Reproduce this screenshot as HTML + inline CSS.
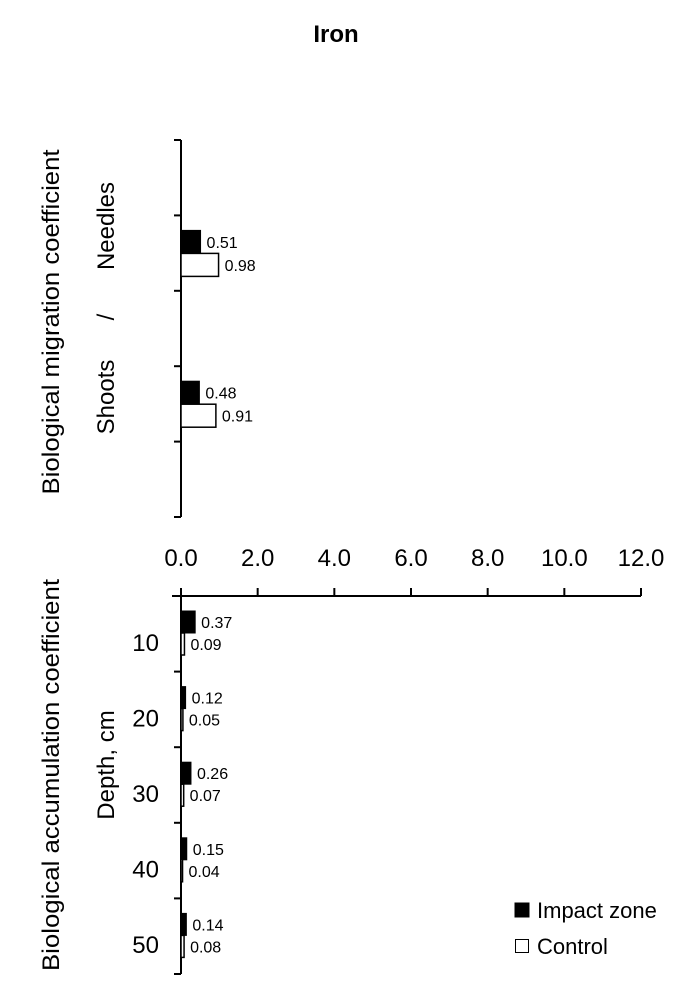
<!DOCTYPE html>
<html><head><meta charset="utf-8"><style>
body{margin:0;background:#fff;}
svg{display:block;font-family:"Liberation Sans",Arial,sans-serif;}
</style></head><body>
<svg id="chart" width="681" height="1004" viewBox="0 0 681 1004" xmlns="http://www.w3.org/2000/svg">
<text x="336" y="42" font-size="24" font-weight="bold" text-anchor="middle">Iron</text>
<g id="top"></g>
<g id="bot"></g>
<g id="axis"></g>
<text transform="translate(59,322) rotate(-90)" font-size="24" text-anchor="middle" textLength="345" lengthAdjust="spacingAndGlyphs">Biological migration coefficient</text>
<text transform="translate(114,226) rotate(-90)" font-size="24" text-anchor="middle">Needles</text>
<text transform="translate(114,317) rotate(-90)" font-size="24" text-anchor="middle">/</text>
<text transform="translate(114,397) rotate(-90)" font-size="24" text-anchor="middle">Shoots</text>
<text transform="translate(59,775) rotate(-90)" font-size="24" text-anchor="middle" textLength="392" lengthAdjust="spacingAndGlyphs">Biological accumulation coefficient</text>
<text transform="translate(114,765) rotate(-90)" font-size="24" text-anchor="middle">Depth, cm</text>
<rect x="515" y="903" width="14" height="14" fill="#000" stroke="#000"/>
<text x="537" y="918" font-size="22">Impact zone</text>
<rect x="515.5" y="939.5" width="13" height="13" fill="#fff" stroke="#000"/>
<text x="537" y="954" font-size="22">Control</text>
</svg>
<script>
const topCategories = ["Needles", "Shoots"];
const topSlots = [1, 3];
const topImpact = [0.51, 0.48];
const topControl = [0.98, 0.91];
const depthCategories = ["10", "20", "30", "40", "50"];
const depthImpact = [0.37, 0.12, 0.26, 0.15, 0.14];
const depthControl = [0.09, 0.05, 0.07, 0.04, 0.08];
const xTicks = [0, 2, 4, 6, 8, 10, 12];
const xTickLabels = ["0.0", "2.0", "4.0", "6.0", "8.0", "10.0", "12.0"];

const NS = "http://www.w3.org/2000/svg";
const x0 = 181, pxPerUnit = (641 - 181) / 12;
function xs(v){ return x0 + v * pxPerUnit; }
function mk(tag, attrs, parent){
  const e = document.createElementNS(NS, tag);
  for (const k in attrs) e.setAttribute(k, attrs[k]);
  parent.appendChild(e); return e;
}
function fmt(v){ return v.toFixed(2); }

const topG = document.getElementById('top');
const tTop = 140, tBot = 517, tSlot = (tBot - tTop) / 5;
let ln = mk('line', {x1:x0, y1:tTop, x2:x0, y2:tBot, stroke:'#000', 'stroke-width':2}, topG);


for (let i = 0; i <= 5; i++) {
  const y = tTop + i * tSlot;
  const t = mk('line', {x1:x0-7, y1:y, x2:x0, y2:y, stroke:'#000', 'stroke-width':2}, topG);
  
  
}
function drawPair(g, yStart, imp, ctl, h, name){
  const b1 = mk('rect', {x:x0, y:yStart, width:Math.max(xs(imp)-x0,1), height:h, fill:'#000', stroke:'#000'}, g);
  
  
  const l1 = mk('text', {x:xs(imp)+6, y:yStart+h/2+6, 'font-size':16}, g);
  l1.textContent = fmt(imp);
  
  
  const b2 = mk('rect', {x:x0, y:yStart+h, width:Math.max(xs(ctl)-x0,1), height:h, fill:'#fff', stroke:'#000', 'stroke-width':1.5}, g);
  
  
  const l2 = mk('text', {x:xs(ctl)+6, y:yStart+h*1.5+6, 'font-size':16}, g);
  l2.textContent = fmt(ctl);
  
  
}
topCategories.forEach((c, i) => {
  drawPair(topG, tTop + topSlots[i] * tSlot + 15, topImpact[i], topControl[i], 23, c.toLowerCase());
});

const ax = document.getElementById('axis');
const axY = 596;
ln = mk('line', {x1:172, y1:axY, x2:641, y2:axY, stroke:'#000', 'stroke-width':2}, ax);


xTicks.forEach((v, i) => {
  const t = mk('line', {x1:xs(v), y1:axY-8, x2:xs(v), y2:axY, stroke:'#000', 'stroke-width':2}, ax);
  
  
  const l = mk('text', {x:xs(v), y:566, 'font-size':24, 'text-anchor':'middle'}, ax);
  l.textContent = xTickLabels[i];
  
  
});

const botG = document.getElementById('bot');
const bTop = 596, bBot = 974, bSlot = (bBot - bTop) / 5;
ln = mk('line', {x1:x0, y1:bTop, x2:x0, y2:bBot, stroke:'#000', 'stroke-width':2}, botG);


for (let i = 1; i <= 5; i++) {
  const y = bTop + i * bSlot;
  const t = mk('line', {x1:x0-7, y1:y, x2:x0, y2:y, stroke:'#000', 'stroke-width':2}, botG);
  
  
}
depthCategories.forEach((c, i) => {
  const ys = bTop + i * bSlot;
  drawPair(botG, ys + 15, depthImpact[i], depthControl[i], 22, 'depth-' + c);
  const l = mk('text', {x:159, y:ys + bSlot/2 + 17, 'font-size':24, 'text-anchor':'end'}, botG);
  l.textContent = c;
  
  
});
</script>
</body></html>
